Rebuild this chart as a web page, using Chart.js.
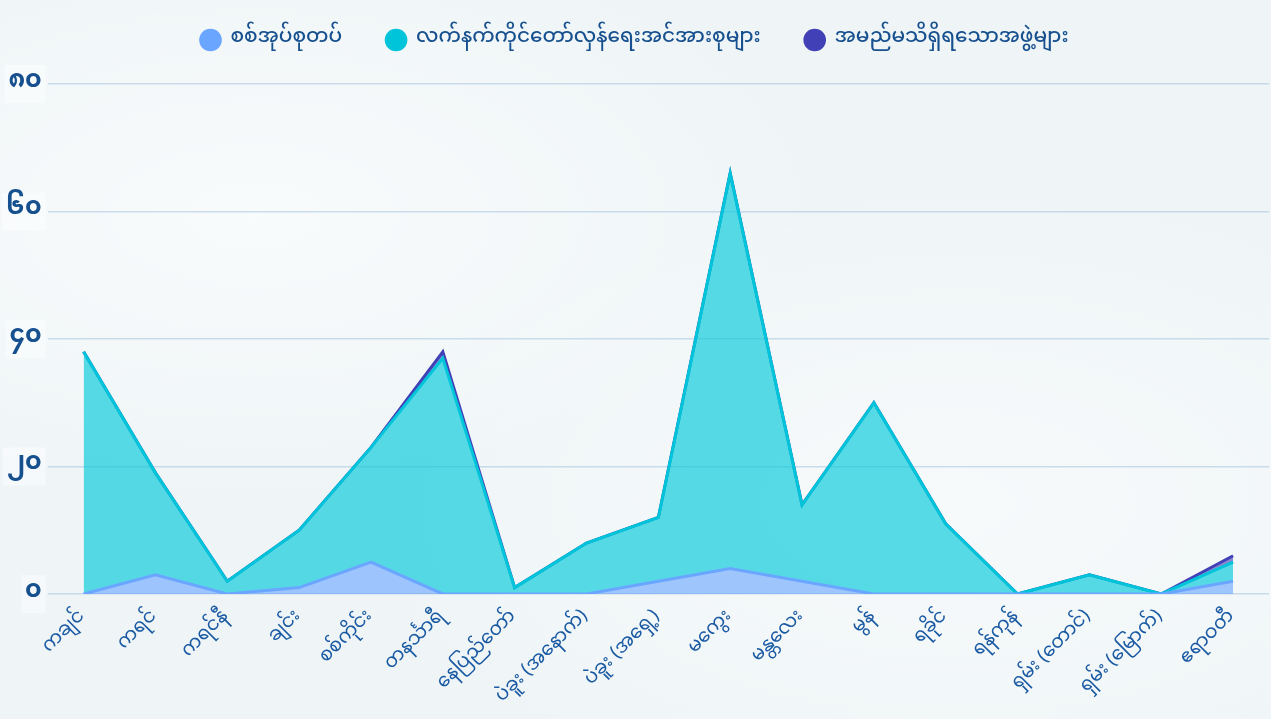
<!DOCTYPE html>
<html>
<head>
<meta charset="utf-8">
<script src="https://cdn.jsdelivr.net/npm/chart.js@4.4.1/dist/chart.umd.min.js"></script>
<style>
  html, body { margin: 0; padding: 0; }
  body {
    width: 1271px; height: 719px; overflow: hidden;
    background-color: #eff5f7;
    background-image:
      radial-gradient(ellipse at 20% 30%, rgba(255,255,255,0.6), rgba(255,255,255,0) 40%),
      radial-gradient(ellipse at 75% 70%, rgba(255,255,255,0.5), rgba(255,255,255,0) 45%);
  }
  #wrap { position: relative; width: 1271px; height: 719px; }
</style>
</head>
<body>
<div id="wrap"><canvas id="chart"></canvas></div>
<script>
// တိုင်းဒေသကြီး / ပြည်နယ်များ
const regions = [
  "ကချင်", "ကရင်", "ကရင်နီ", "ချင်း", "စစ်ကိုင်း", "တနင်္သာရီ", "နေပြည်တော်",
  "ပဲခူး (အနောက်)", "ပဲခူး (အရှေ့)", "မကွေး", "မန္တလေး", "မွန်", "ရခိုင်",
  "ရန်ကုန်", "ရှမ်း (တောင်)", "ရှမ်း (မြောက်)", "ဧရာဝတီ"
];

// series values (stacked)
const juntaForces = [0, 3, 0, 1, 5, 0, 0, 0, 2, 4, 2, 0, 0, 0, 0, 0, 2];
const resistanceForces = [38, 16, 2, 9, 18, 37, 1, 8, 10, 62, 12, 30, 11, 0, 3, 0, 3];
const unknownGroups = [0, 0, 0, 0, 0, 1, 0, 0, 0, 0, 0, 0, 0, 0, 0, 0, 1];

const seriesNames = ["စစ်အုပ်စုတပ်", "လက်နက်ကိုင်တော်လှန်ရေးအင်အားစုများ", "အမည်မသိရှိရသောအဖွဲ့များ"];
const yTickLabels = ["၀", "၂၀", "၄၀", "၆၀", "၈၀"];

const myFont = "'Noto Sans Myanmar', 'Padauk', 'Myanmar Text', 'Noto Sans', sans-serif";
const textBlue = "#17508f";

// legend: wide gaps between items but keep it near the top
const legendLayout = {
  id: "legendLayout",
  beforeInit(chart) {
    const fit = chart.legend.fit;
    chart.legend.fit = function () {
      fit.call(this);
      this.height = 84;
    };
  },
  afterLayout(chart) {
    chart.legend.top = -14;
  },
};

const ctx = document.getElementById("chart").getContext("2d");

new Chart(ctx, {
  type: "line",
  data: {
    labels: regions,
    datasets: [
      {
        label: seriesNames[0],
        data: juntaForces,
        borderColor: "rgb(106, 166, 255)",
        backgroundColor: "rgba(106, 166, 255, 0.62)",
        fill: "origin",
      },
      {
        label: seriesNames[1],
        data: resistanceForces,
        borderColor: "rgb(0, 196, 218)",
        backgroundColor: "rgba(0, 202, 218, 0.65)",
        fill: "-1",
      },
      {
        label: seriesNames[2],
        data: unknownGroups,
        borderColor: "rgb(66, 64, 182)",
        backgroundColor: "rgba(66, 64, 182, 0.6)",
        fill: "-1",
      },
    ],
  },
  plugins: [legendLayout],
  options: {
    responsive: true,
    maintainAspectRatio: false,
    animation: false,
    layout: { padding: { left: 0, right: 2, top: 0, bottom: 5 } },
    elements: {
      line: { tension: 0, borderWidth: 3 },
      point: { radius: 0, hoverRadius: 0 },
    },
    plugins: {
      legend: {
        position: "top",
        labels: {
          usePointStyle: true,
          pointStyle: "circle",
          boxWidth: 20,
          boxHeight: 16,
          padding: 44,
          color: textBlue,
          font: { family: myFont, size: 20, weight: "500" },
          generateLabels: (chart) =>
            chart.data.datasets.map((ds, i) => ({
              text: ds.label,
              fillStyle: ds.borderColor,
              strokeStyle: ds.borderColor,
              lineWidth: 0,
              pointStyle: "circle",
              datasetIndex: i,
              fontColor: textBlue,
            })),
        },
      },
      tooltip: { enabled: false },
    },
    scales: {
      x: {
        offset: true,
        grid: { display: false },
        border: { display: false },
        ticks: {
          color: "#1a5aa3",
          padding: 5,
          font: { family: myFont, size: 19 },
          maxRotation: 45,
          minRotation: 45,
          autoSkip: false,
        },
      },
      y: {
        stacked: true,
        min: 0,
        max: 80,
        grid: { color: "rgba(120, 165, 205, 0.35)", lineWidth: 1.5, drawTicks: false },
        border: { display: false },
        ticks: {
          stepSize: 20,
          color: textBlue,
          padding: 6,
          font: { family: myFont, size: 25, weight: "bold" },
          showLabelBackdrop: true,
          backdropColor: "rgba(255, 255, 255, 0.45)",
          backdropPadding: 4,
          callback: (value) => yTickLabels[value / 20],
        },
      },
    },
  },
});
</script>
</body>
</html>
